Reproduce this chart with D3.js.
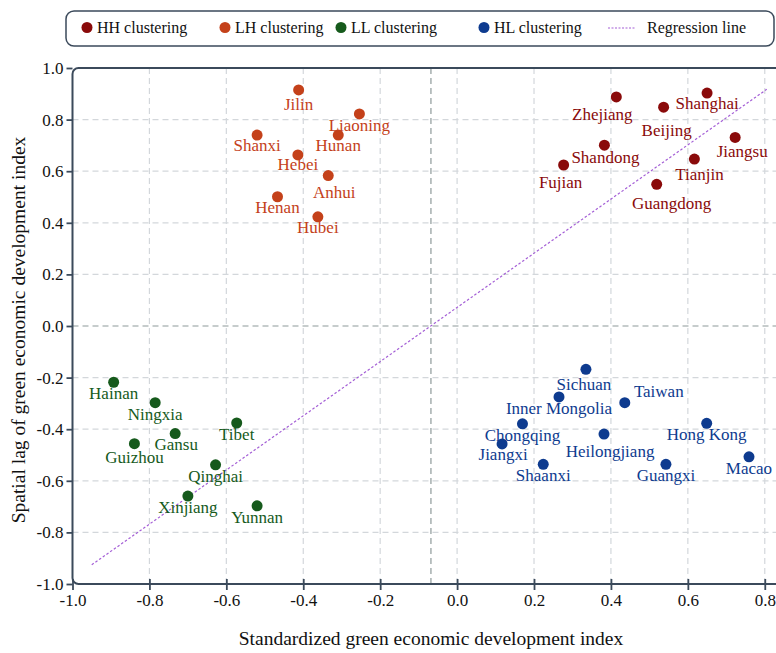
<!DOCTYPE html>
<html><head><meta charset="utf-8">
<script src="https://cdn.jsdelivr.net/npm/d3@7"></script>
<style>
html,body{margin:0;padding:0;background:#fff;overflow:hidden;}
text{font-family:"Liberation Serif","Times New Roman",serif;}
</style></head>
<body><svg id="chart" width="776" height="653"></svg>
<script>
// ---- data ----
const hhNames = ["Zhejiang","Shanghai","Beijing","Shandong","Fujian","Jiangsu","Tianjin","Guangdong"];
const hhX = [0.414,0.650,0.537,0.383,0.277,0.723,0.617,0.519];
const hhY = [0.888,0.903,0.848,0.701,0.624,0.731,0.647,0.549];

const lhNames = ["Jilin","Liaoning","Shanxi","Hunan","Hebei","Anhui","Henan","Hubei"];
const lhX = [-0.412,-0.254,-0.520,-0.309,-0.414,-0.335,-0.467,-0.362];
const lhY = [0.915,0.822,0.740,0.740,0.663,0.583,0.501,0.423];

const llNames = ["Hainan","Ningxia","Gansu","Guizhou","Tibet","Qinghai","Xinjiang","Yunnan"];
const llX = [-0.893,-0.785,-0.733,-0.839,-0.573,-0.628,-0.700,-0.520];
const llY = [-0.218,-0.297,-0.417,-0.456,-0.376,-0.538,-0.659,-0.697];

const hlNames = ["Sichuan","Inner Mongolia","Taiwan","Chongqing","Hong Kong","Heilongjiang","Jiangxi","Shaanxi","Guangxi","Macao"];
const hlX = [0.335,0.265,0.436,0.170,0.649,0.382,0.117,0.224,0.543,0.759];
const hlY = [-0.168,-0.275,-0.297,-0.379,-0.377,-0.419,-0.457,-0.536,-0.536,-0.507];

const legendLabels = ["HH clustering","LH clustering","LL clustering","HL clustering","Regression line"];
const xTicks = [-1.0,-0.8,-0.6,-0.4,-0.2,0.0,0.2,0.4,0.6,0.8];
const yTicks = [-1.0,-0.8,-0.6,-0.4,-0.2,0.0,0.2,0.4,0.6,0.8,1.0];
const regSlope = 1.05, regIntercept = 0.072, regXStart = -0.95, regXEnd = 0.805;
const xRef = -0.068, yRef = 0.0;
const xTitle = "Standardized green economic development index";
const yTitle = "Spatial lag of green economic development index";

// ---- label placement (layout, not data) ----
const labelOffset = {
  Zhejiang:[-14,17], Shanghai:[0,10], Beijing:[3,23], Shandong:[1,12], Fujian:[-3,17],
  Jiangsu:[7,14], Tianjin:[5,15], Guangdong:[15,19],
  Jilin:[0,14], Liaoning:[0,11], Shanxi:[0,10], Hunan:[0,10], Hebei:[0,9], Anhui:[6,16], Henan:[0,10], Hubei:[0,10],
  Gansu:[1,10], Guizhou:[0,13],
  Taiwan:[34,-12], Heilongjiang:[6,17], Sichuan:[-2,15], Jiangxi:[1,10]
};
const colors = {HH:"#8a0a0a", LH:"#c4411a", LL:"#165a1c", HL:"#0e3b8f"};
const regColor = "#a45fd6";
const frameColor = "#3b4a5b";

const svg = d3.select("#chart");
const x = d3.scaleLinear().domain([-1, 0.85]).range([72.5, 784]);
const y = d3.scaleLinear().domain([-1, 1]).range([584, 68]);

// grid
const g = svg.append("g");
g.selectAll(".vg").data(xTicks.filter(d=>d>-1)).enter().append("line")
  .attr("x1",d=>x(d)).attr("x2",d=>x(d)).attr("y1",y(1)).attr("y2",y(-1))
  .attr("stroke","#d3d7db").attr("stroke-width",1.2).attr("stroke-dasharray","6,4");
g.selectAll(".hg").data(yTicks.filter(d=>d>-1&&d<1&&d!==0)).enter().append("line")
  .attr("x1",x(-1)).attr("x2",776).attr("y1",d=>y(d)).attr("y2",d=>y(d))
  .attr("stroke","#d3d7db").attr("stroke-width",1.2).attr("stroke-dasharray","6,4");
// reference lines
g.append("line").attr("x1",x(xRef)).attr("x2",x(xRef)).attr("y1",y(1)).attr("y2",y(-1))
  .attr("stroke","#8e9a9a").attr("stroke-width",1.2).attr("stroke-dasharray","6,4");
g.append("line").attr("x1",x(-1)).attr("x2",776).attr("y1",y(yRef)).attr("y2",y(yRef))
  .attr("stroke","#8e9a9a").attr("stroke-width",1.2).attr("stroke-dasharray","6,4");

// regression line
svg.append("line")
  .attr("x1",x(regXStart)).attr("y1",y(regSlope*regXStart+regIntercept))
  .attr("x2",x(regXEnd)).attr("y2",y(regSlope*regXEnd+regIntercept))
  .attr("stroke",regColor).attr("stroke-width",1.2).attr("stroke-dasharray","2.5,2");

// frame
svg.append("rect").attr("x",x(-1)).attr("y",y(1)).attr("width",x(0.85)+20-x(-1)).attr("height",y(-1)-y(1))
  .attr("rx",6).attr("fill","none").attr("stroke",frameColor).attr("stroke-width",2);

// axes
const xAxis = svg.append("g").attr("transform",`translate(0,${y(-1)})`)
  .call(d3.axisBottom(x).tickValues(xTicks).tickFormat(d3.format(".1f")).tickSize(6).tickPadding(4));
const yAxis = svg.append("g").attr("transform",`translate(${x(-1)},0)`)
  .call(d3.axisLeft(y).tickValues(yTicks).tickFormat(d3.format(".1f")).tickSize(6).tickPadding(3));
[xAxis,yAxis].forEach(a=>{
  a.select(".domain").remove();
  a.selectAll("line").attr("stroke",frameColor).attr("stroke-width",1.8);
  a.selectAll("text").attr("fill","#111").style("font-size","17px")
   .style("font-family",'"Liberation Serif","Times New Roman",serif');
});
xAxis.selectAll(".tick line").attr("y1",-5);
xAxis.selectAll(".tick text").text(d=>d3.format(".1f")(d).replace("−","-"));
yAxis.selectAll(".tick text").text(d=>d3.format(".1f")(d).replace("−","-"));

// titles
svg.append("text").attr("x",431).attr("y",645).attr("text-anchor","middle")
  .style("font-size","19.5px").attr("fill","#111").text(xTitle);
svg.append("text").attr("transform",`translate(25,${330}) rotate(-90)`).attr("text-anchor","middle")
  .style("font-size","19.5px").attr("fill","#111").text(yTitle);

// points
const groups = [
  {key:"HH", names:hhNames, xs:hhX, ys:hhY},
  {key:"LH", names:lhNames, xs:lhX, ys:lhY},
  {key:"LL", names:llNames, xs:llX, ys:llY},
  {key:"HL", names:hlNames, xs:hlX, ys:hlY}
];
groups.forEach(gr=>{
  const data = gr.names.map((n,i)=>({n, x:gr.xs[i], y:gr.ys[i]}));
  const gg = svg.append("g");
  gg.selectAll("circle").data(data).enter().append("circle")
    .attr("cx",d=>x(d.x)).attr("cy",d=>y(d.y)).attr("r",5.5).attr("fill",colors[gr.key]);
  gg.selectAll("text").data(data).enter().append("text")
    .attr("x",d=>x(d.x)+(labelOffset[d.n]?labelOffset[d.n][0]:0))
    .attr("y",d=>y(d.y)+(labelOffset[d.n]?labelOffset[d.n][1]:11))
    .attr("dy","0.35em").attr("text-anchor","middle")
    .style("font-size","17px").attr("fill",colors[gr.key]).text(d=>d.n);
});

// legend
const lg = svg.append("g");
lg.append("rect").attr("x",66).attr("y",11).attr("width",708).attr("height",35).attr("rx",8)
  .attr("fill","#fff").attr("stroke",frameColor).attr("stroke-width",1.5);
const legPos = [87,225,341,484];
["HH","LH","LL","HL"].forEach((k,i)=>{
  lg.append("circle").attr("cx",legPos[i]).attr("cy",27.5).attr("r",5.5).attr("fill",colors[k]);
  lg.append("text").attr("x",legPos[i]+10).attr("y",27.5).attr("dy","0.35em")
    .style("font-size","16px").attr("fill","#111").text(legendLabels[i]);
});
lg.append("line").attr("x1",608).attr("x2",635).attr("y1",28).attr("y2",28)
  .attr("stroke",regColor).attr("stroke-width",1.2).attr("stroke-dasharray","2,1.5");
lg.append("text").attr("x",647).attr("y",27.5).attr("dy","0.35em")
  .style("font-size","16px").attr("fill","#111").text(legendLabels[4]);
</script></body></html>
